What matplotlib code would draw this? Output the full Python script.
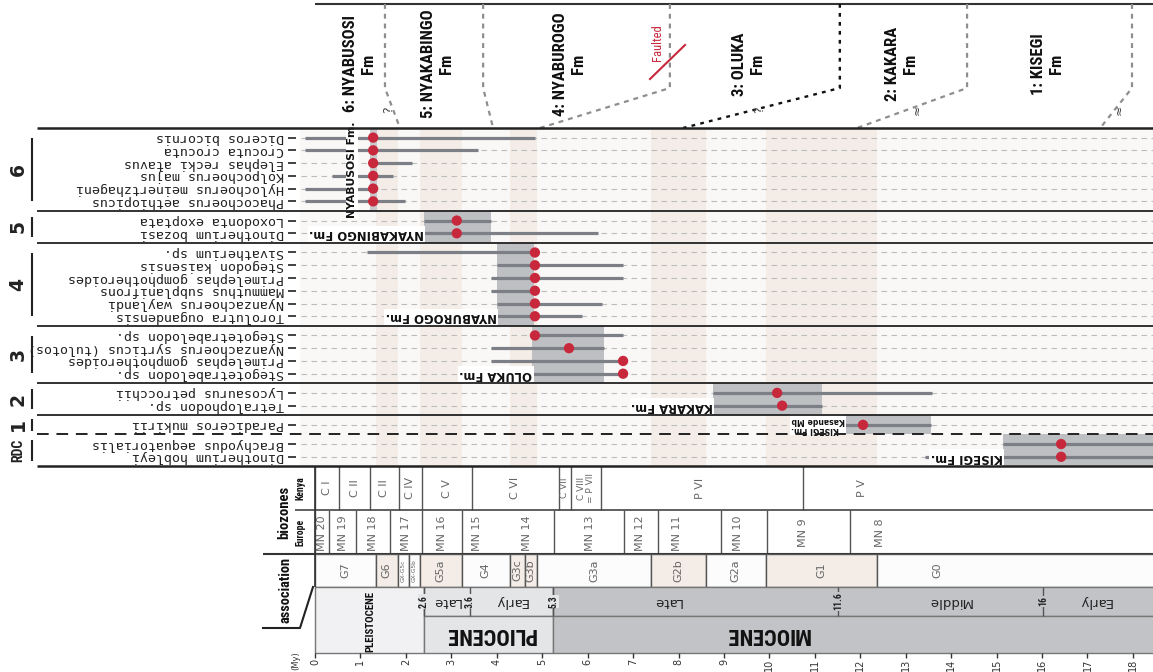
import matplotlib
matplotlib.use("Agg")
import matplotlib.pyplot as plt
from matplotlib import font_manager as fm
from matplotlib.patches import Rectangle

# ---------------- data ----------------
group_labels = ["6", "5", "4", "3", "2", "1", "RDC"]
group_sizes = [6, 2, 6, 4, 2, 1, 2]

species = [
    "Diceros bicornis", "Crocuta crocuta", "Elephas recki atavus",
    "Kolpochoerus majus", "Hylochoerus meinertzhageni", "Phacochoerus aethiopicus",
    "Loxodonta exoptata", "Dinotherium bozasi",
    "Sivatherium sp.", "Stegodon kaisensis", "Primelephas gomphotheroides",
    "Mammuthus subplanifrons", "Nyanzachoerus waylandi", "Torolutra ougandensis",
    "Stegotetrabelodon sp.", "Nyanzachoerus syrticus (tulotos)",
    "Primelephas gomphotheroides", "Stegotetrabelodon sp.",
    "Lycosaurus petrocchii", "Tetralophodon sp.",
    "Paradiceros mukirii",
    "Brachyodus aequatorialis", "Dinotherium hobleyi",
]
first_age = [-0.22, -0.22, 1.21, 0.37, -0.22, -0.22,
             2.40, 2.40,
             1.14, 4.00, 3.87, 3.87, 4.00, 4.00,
             4.84, 3.87, 3.87, 4.80,
             8.76, 8.76,
             11.66,
             15.14, 13.42]
last_age = [4.84, 3.59, 2.13, 1.72, 1.36, 1.98,
            3.87, 6.23,
            4.84, 6.78, 6.78, 4.84, 6.32, 5.88,
            6.78, 6.36, 6.78, 6.78,
            13.58, 11.16,
            13.56,
            19.0, 19.0]
dot_age = [1.28, 1.28, 1.28, 1.28, 1.28, 1.28,
           3.12, 3.12,
           4.84, 4.84, 4.84, 4.84, 4.84, 4.84,
           4.84, 5.59, 6.78, 6.78,
           10.17, 10.28,
           12.06,
           16.42, 16.42]

fm_labels = ["NYABUSOSI Fm.", "NYAKABINGO Fm.", "NYABUROGO Fm.", "OLUKA Fm.",
             "KAKARA Fm.", "KISEGI Fm.\nKasande Mb", "KISEGI Fm."]
fm_start = [1.21, 2.40, 4.00, 4.78, 8.76, 11.66, 15.14]
fm_end = [1.36, 3.87, 4.82, 6.36, 11.16, 13.56, 19.0]

header_names = ["6: NYABUSOSI\nFm", "5: NYAKABINGO\nFm", "4: NYABUROGO\nFm",
                "3: OLUKA\nFm", "2: KAKARA\nFm", "1: KISEGI\nFm"]
header_age = [0.98, 2.70, 5.61, 9.55, 12.90, 16.13]
contact_top = [1.54, 3.70, 7.81, 11.55, 14.35, 17.98]
contact_base = [1.87, 3.92, 4.95, 8.10, 11.93, 17.28]
contact_mark = ["?", "", "", "?", "≈", "≈"]
contact_mark_age = [1.61, 0, 0, 9.79, 13.25, 17.70]

kenya_edges = [0, 0.53, 1.21, 1.85, 2.35, 3.46, 5.37, 5.63, 6.29, 10.74]
kenya_labels = ["C I", "C II", "C II", "C IV", "C V", "C VI", "C VII",
                "C VIII\n= P VII", "P VI", "P V"]
kenya_label_age = [0.26, 0.88, 1.52, 2.09, 2.90, 4.40, 5.50, 5.96, 8.47, 12.04]

europe_edges = [0, 0.31, 0.90, 1.65, 2.35, 3.24, 5.26, 6.80, 7.55, 8.93, 9.95, 11.77]
europe_labels = ["MN 20", "MN 19", "MN 18", "MN 17", "MN 16", "MN 15", "MN 14",
                 "MN 13", "MN 12", "MN 11", "MN 10", "MN 9", "MN 8"]
europe_label_age = [0.15, 0.62, 1.28, 2.00, 2.79, 3.57, 4.67, 6.05, 7.15, 7.97,
                    9.31, 10.74, 12.43]

assoc_labels = ["G7", "G6", "GX-G5c", "GX-G5b", "G5a", "G4", "G3c", "G3b",
                "G3a", "G2b", "G2a", "G1", "G0"]
assoc_edges = [0, 1.34, 1.83, 2.07, 2.31, 3.24, 4.29, 4.62, 4.89, 7.39, 8.60,
               9.93, 12.37, 19.0]
assoc_label_age = [0.67, 1.58, 1.95, 2.19, 2.77, 3.76, 4.45, 4.75, 6.14, 8.0,
                   9.26, 11.15, 13.70]
assoc_marked = [False, True, False, False, True, False, True, True, False,
                True, False, True, False]

epoch_names = ["PLEISTOCENE", "PLIOCENE", "MIOCENE"]
epoch_edges = [0, 2.40, 5.24, 19.0]
epoch_label_age = [1.21, 3.87, 9.95]
stage_names = ["Late", "Early", "Late", "Middle", "Early"]
stage_label_age = [2.90, 4.32, 7.75, 13.97, 17.16]
stage_bound_age = [2.40, 3.41, 5.24, 11.51, 16.02]
stage_bound_label = ["2.6", "3.6", "5.3", "11.6", "16"]

tick_ages = list(range(0, 19))

# ---------------- fonts ----------------
names = {f.name for f in fm.fontManager.ttflist}
narrow = None
for cand in ("Liberation Sans Narrow", "Roboto Condensed", "Open Sans Condensed"):
    if cand in names:
        narrow = cand
        break
dv_cond = any(f.name == "DejaVu Sans" and str(f.stretch) == "condensed"
              for f in fm.fontManager.ttflist)


def cond(size):
    if narrow:
        return dict(family=narrow, fontsize=size, fontweight="bold")
    if dv_cond:
        return dict(family="DejaVu Sans", fontstretch="condensed",
                    fontsize=size * 0.84, fontweight="bold")
    return dict(family="DejaVu Sans", fontsize=size * 0.74, fontweight="bold")


# ---------------- layout ----------------
W, H = 1153, 672
X0, PX = 315.0, 45.44


def age_of(px):
    return (px - X0) / PX


XL, XR = age_of(0), age_of(W)

fig = plt.figure(figsize=(W / 100, H / 100), dpi=100)
ax = fig.add_axes([0, 0, 1, 1])
ax.set_xlim(XL, XR)
ax.set_ylim(H, 0)
ax.axis("off")

ROW, PAD, TOP = 12.75, 9.6, 128.0
group_top, group_bot, row_y, row_group = [], [], [], []
y = TOP
for g, n in enumerate(group_sizes):
    group_top.append(y)
    for k in range(n):
        row_y.append(y + PAD + k * ROW)
        row_group.append(g)
    y += 2 * PAD + (n - 1) * ROW
    group_bot.append(y)
BOTTOM = y

BEIGE = "#f4ede7"
BOXGRAY = "#bebfc2"

# panel background and beige bands
ax.add_patch(Rectangle((age_of(300), TOP), XR - age_of(300), BOTTOM - TOP,
                       color="#faf7f7", lw=0, zorder=0))
for i, m in enumerate(assoc_marked):
    if m:
        ax.add_patch(Rectangle((assoc_edges[i], TOP), assoc_edges[i + 1] - assoc_edges[i],
                               BOTTOM - TOP, color=BEIGE, lw=0, zorder=1))

ax.hlines(row_y, age_of(301), XR, colors="#bcbcbc", lw=0.8,
          linestyles=(0, (5, 4)), zorder=2)

# formation age boxes
for i in range(len(fm_labels)):
    col = "#c9c9cb" if i == 0 else BOXGRAY
    ax.add_patch(Rectangle((fm_start[i], group_top[i]), fm_end[i] - fm_start[i],
                           group_bot[i] - group_top[i], color=col, lw=0, zorder=3))

ax.hlines(row_y, first_age, last_age, colors="#7c7f86", lw=2.3, zorder=4)
ax.scatter(dot_age, row_y, s=55, color="#c8283c", edgecolors="none", zorder=5)

# formation labels inside panel
lbl_font = dict(family="DejaVu Sans", fontweight="bold", color="#111")
ax.text(age_of(352), (group_top[0] + group_bot[0]) / 2, fm_labels[0], rotation=90,
        ha="center", va="center", fontsize=7.8, zorder=6,
        bbox=dict(facecolor="white", edgecolor="none", pad=1.0), **lbl_font)
for i in range(1, len(fm_labels)):
    rows = [row_y[k] for k in range(len(row_y)) if row_group[k] == i]
    small = "\n" in fm_labels[i]
    ax.text(fm_start[i], rows[-1] + (0 if small else 0.5), fm_labels[i], rotation=180,
            ha="right", va="center", fontsize=5.6 if small else 8.4,
            linespacing=1.0, zorder=6,
            bbox=dict(facecolor="white", edgecolor="none", pad=1.0), **lbl_font)

# species labels
ax.hlines(row_y, age_of(288), age_of(296), colors="#222", lw=1.2, zorder=6)
for yy, name in zip(row_y, species):
    ax.text(age_of(284), yy, name, rotation=180, ha="right", va="center",
            fontsize=9.6, family="DejaVu Sans Mono", color="#222")

# group separators, brackets and numbers
for i in range(1, len(group_labels)):
    if group_labels[i] == "RDC":
        ax.hlines(group_top[i], age_of(37), XR, colors="#222", lw=1.4,
                  linestyles=(0, (6, 4)), zorder=7)
    else:
        ax.hlines(group_top[i], age_of(37), XR, colors="#222", lw=1.3, zorder=7)
ax.hlines([TOP, BOTTOM], age_of(37), XR, colors="#222", lw=1.8, zorder=7)
for i, lab in enumerate(group_labels):
    h = group_bot[i] - group_top[i]
    m = min(10, h * 0.18)
    ax.vlines(age_of(32), group_top[i] + m, group_bot[i] - m, colors="#222", lw=1.5)
    cy = (group_top[i] + group_bot[i]) / 2
    if lab == "RDC":
        ax.text(age_of(18), cy, lab, rotation=90, ha="center", va="center",
                color="#222", **cond(10))
    else:
        ax.text(age_of(18), cy, lab, rotation=90, ha="center", va="center",
                fontsize=13.5, fontweight="bold", color="#222")

# ---------------- header ----------------
ax.hlines(4, 0, XR, colors="#333", lw=1.5)
for i in range(len(contact_top)):
    black = i == 3
    ax.plot([contact_top[i], contact_top[i], contact_base[i]], [4, 88, TOP],
            color="#111" if black else "#8e8e8e", lw=1.7 if black else 1.6,
            ls=(0, (1.6, 2.2)) if black else (0, (2.2, 2.2)), zorder=2)
    if contact_mark[i]:
        ax.text(contact_mark_age[i], 110, contact_mark[i], rotation=90, ha="center",
                va="center", fontsize=9, color="#444")
hl = 1.25 if narrow else 1.75
for nm, a in zip(header_names, header_age):
    ax.text(a, 64, nm, rotation=90, ha="center", va="center", multialignment="center",
            linespacing=hl, color="#111", **cond(12))
ax.text(age_of(657), 43, "Faulted", rotation=90, ha="center", va="center",
        color="#c8283c", **dict(cond(9), fontweight="normal"))
ax.plot([age_of(650), age_of(685)], [79, 45], color="#c8283c", lw=1.5)

# ---------------- biozones ----------------
KEN = (BOTTOM, 510)
EUR = (510, 554)
ASC = (554, 587)
STG = (587, 616)
EPO = (616, 653)
LINE = "#555"
TXT = "#666"

ax.vlines(kenya_edges, KEN[0], KEN[1], colors=LINE, lw=1)
ax.hlines(KEN[1], age_of(295), XR, colors="#444", lw=1.2)
for a, lab in zip(kenya_label_age, kenya_labels):
    ax.text(a, (KEN[0] + KEN[1]) / 2, lab, rotation=90, ha="center", va="center",
            fontsize=6.5 if "\n" in lab or lab == "C VII" else 8, linespacing=1.0,
            color=TXT)
ax.vlines(europe_edges, EUR[0], EUR[1], colors=LINE, lw=1)
ax.hlines(EUR[1], age_of(263), XR, colors="#333", lw=1.5)
for a, lab in zip(europe_label_age, europe_labels):
    ax.text(a, (EUR[0] + EUR[1]) / 2 + 1, lab, rotation=90, ha="center", va="center",
            fontsize=8, color=TXT)

for i, lab in enumerate(assoc_labels):
    x0, x1 = assoc_edges[i], min(assoc_edges[i + 1], XR + 1)
    fc = BEIGE if assoc_marked[i] else "#fdfcfc"
    ax.add_patch(Rectangle((x0, ASC[0]), x1 - x0, ASC[1] - ASC[0], facecolor=fc,
                           edgecolor=LINE, lw=1, zorder=2))
    fs = 4.2 if lab.startswith("GX") else 8
    ax.text(assoc_label_age[i], (ASC[0] + ASC[1]) / 2, lab, rotation=90, ha="center",
            va="center", fontsize=fs, color=TXT, zorder=3)

# ---------------- epochs ----------------
ep_fill = ["#f1f1f3", "#e4e5e7", "#c2c3c6"]
for i, nm in enumerate(epoch_names):
    x0, x1 = epoch_edges[i], min(epoch_edges[i + 1], XR + 1)
    if i == 0:
        ax.add_patch(Rectangle((x0, STG[0]), x1 - x0, EPO[1] - STG[0],
                               facecolor=ep_fill[i], edgecolor="#777", lw=1, zorder=2))
        ax.text(epoch_label_age[i], (STG[0] + EPO[1]) / 2 + 2, nm, rotation=90,
                ha="center", va="center", color="#111", zorder=4, **cond(7.8))
    else:
        for (t, b) in (STG, EPO):
            ax.add_patch(Rectangle((x0, t), x1 - x0, b - t, facecolor=ep_fill[i],
                                   edgecolor="#777", lw=1, zorder=2))
        ax.text(epoch_label_age[i], (EPO[0] + EPO[1]) / 2, nm, rotation=180,
                ha="center", va="center", color="#111", zorder=4, **cond(16))
ax.vlines(stage_bound_age, STG[0], STG[1], colors="#555", lw=1, zorder=3)
for a, lab in zip(stage_label_age, stage_names):
    ax.text(a, (STG[0] + STG[1]) / 2, lab, rotation=180, ha="center", va="center",
            fontsize=9.5, color="#222", zorder=4)
for a, lab in zip(stage_bound_age, stage_bound_label):
    fc = ep_fill[1] if a < 5.3 else ep_fill[2]
    ax.text(a, (STG[0] + STG[1]) / 2, lab, rotation=90, ha="center", va="center",
            color="#222", zorder=4,
            bbox=dict(facecolor=fc, edgecolor="none", pad=0.4), **cond(7))

# left side labels and bracket
ax.vlines(0, KEN[0], ASC[1], colors="#333", lw=1.2, zorder=3)
ax.plot([age_of(263), age_of(300), age_of(313)], [628, 628, 587], color="#222", lw=1.5)
ax.text(age_of(284), (KEN[0] + EUR[1]) / 2 + 2, "biozones", rotation=90, ha="center",
        va="center", color="#111", **cond(10.5))
ax.text(age_of(285), 590, "association", rotation=90, ha="center", va="center",
        color="#111", **cond(10.4))
ax.text(age_of(301), (KEN[0] + KEN[1]) / 2, "Kenya", rotation=90, ha="center",
        va="center", color="#111", **cond(7))
ax.text(age_of(301), (EUR[0] + EUR[1]) / 2, "Europe", rotation=90, ha="center",
        va="center", color="#111", **cond(7))

# age axis
ax.vlines(tick_ages, EPO[1], EPO[1] + 5, colors="#333", lw=1)
for t in tick_ages:
    ax.text(t, EPO[1] + 6, str(t), rotation=90, ha="center", va="top",
            fontsize=7, color="#333")
ax.text(age_of(296), H - 1.5, "(My)", rotation=90, ha="center", va="bottom",
        fontsize=6, color="#333")

fig.savefig("out.png", dpi=100)
